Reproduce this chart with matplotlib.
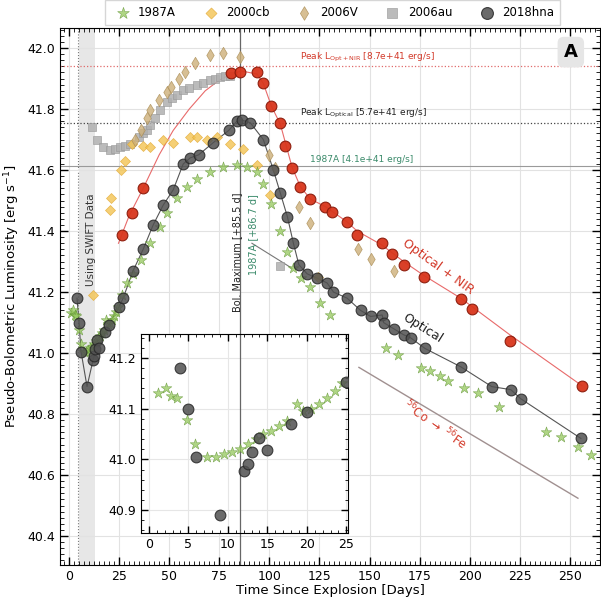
import matplotlib
matplotlib.use('Agg')
import matplotlib.pyplot as plt
from matplotlib.ticker import MultipleLocator
import matplotlib.transforms as mtransforms

# ---------------- data ----------------
# SN 2018hna optical pseudo-bolometric
hna_t = [4, 5, 6, 9, 12, 12.5, 13, 14, 15, 18, 20, 25, 27, 32, 37, 42, 47, 52, 57, 60.5, 64.7,
         72, 79.7, 83.8, 86.3, 90.5, 97, 102, 105.5, 109, 112, 114.7, 118.8, 124, 128.8, 132,
         138.8, 145.5, 150.5, 156.3, 157, 162, 167, 170.5, 177.7, 195.5, 211, 220.5, 225.5, 255.5]
hna_L = [41.18, 41.10, 41.005, 40.89, 40.977, 40.99, 41.014, 41.042, 41.018, 41.07, 41.093,
         41.152, 41.18, 41.27, 41.34, 41.42, 41.485, 41.535, 41.62, 41.64, 41.65, 41.69, 41.73,
         41.76, 41.764, 41.755, 41.70, 41.60, 41.524, 41.447, 41.36, 41.29, 41.26, 41.245,
         41.23, 41.20, 41.18, 41.14, 41.12, 41.125, 41.10, 41.08, 41.06, 41.05, 41.015, 40.955,
         40.89, 40.88, 40.85, 40.72]

# SN 2018hna optical + NIR
nir_t = [26.3, 31.3, 37, 81, 85.5, 93.8, 97, 101, 105.5, 108, 111.3, 115.5, 120.5, 128,
         131.3, 138.8, 143.8, 156, 161.3, 167, 177, 195.5, 201, 220, 256]
nir_L = [41.387, 41.46, 41.54, 41.917, 41.922, 41.92, 41.884, 41.81, 41.753, 41.68, 41.606,
         41.545, 41.505, 41.48, 41.463, 41.43, 41.387, 41.36, 41.325, 41.29, 41.25, 41.176,
         41.144, 41.04, 40.893]
# smooth curve through optical + NIR
nirfit_t = [24.7, 30, 37, 45, 52, 60, 68, 75, 81, 86, 93.8, 97, 101, 105.5, 111.3, 115.5,
            120.5, 128, 138.8, 143.8, 156, 167, 177, 195.5, 220, 256]
nirfit_L = [41.36, 41.45, 41.54, 41.65, 41.73, 41.80, 41.86, 41.895, 41.915, 41.925, 41.915,
            41.884, 41.81, 41.75, 41.61, 41.545, 41.505, 41.48, 41.43, 41.40, 41.355, 41.30,
            41.255, 41.18, 41.06, 40.893]

# SN 1987A
s87_t = [1.2, 2.2, 2.8, 3.5, 4.8, 5.8, 7.4, 8.5, 9.5, 10.5, 11.5, 12.5, 13.5, 14.5, 15.5, 16.5,
         17.5, 18.7, 19.5, 20.5, 21.5, 22.5, 23.5, 24.5, 26.5, 28.8, 32, 36, 40.5, 45.5, 49,
         54, 59, 64, 70.5, 77, 84, 89, 94, 97, 101, 105.5, 109, 112, 116, 120.5, 125.5, 130.5,
         158, 164, 175.5, 180, 185, 189, 197, 204, 214.7, 238, 245.5, 254, 260.5]
s87_L = [41.13, 41.14, 41.125, 41.12, 41.077, 41.03, 41.004, 41.005, 41.01, 41.015, 41.02,
         41.03, 41.04, 41.05, 41.055, 41.065, 41.075, 41.11, 41.095, 41.10, 41.11, 41.12,
         41.135, 41.15, 41.19, 41.23, 41.26, 41.305, 41.36, 41.414, 41.458, 41.51, 41.545,
         41.57, 41.595, 41.61, 41.616, 41.61, 41.594, 41.556, 41.49, 41.40, 41.33, 41.28,
         41.245, 41.217, 41.163, 41.125, 41.015, 40.993, 40.95, 40.94, 40.925, 40.91, 40.884,
         40.868, 40.824, 40.742, 40.726, 40.693, 40.666]

# SN 2000cb
s00_t = [12, 20.5, 21, 26, 28, 31.3, 37, 40.5, 47, 52, 60.5, 64, 69, 74, 80.5, 87, 94, 100.5, 124.5]
s00_L = [41.19, 41.47, 41.51, 41.60, 41.63, 41.687, 41.68, 41.676, 41.70, 41.69, 41.71,
         41.71, 41.70, 41.71, 41.687, 41.67, 41.616, 41.518, 41.25]

# SN 2006V
s06v_t = [33, 36, 39, 40.5, 45, 49, 51, 55, 58, 63, 70.5, 77, 85.5, 99.7, 103, 114.7, 120.5,
          144, 150.5, 162]
s06v_L = [41.70, 41.73, 41.77, 41.797, 41.83, 41.857, 41.873, 41.90, 41.922, 41.95, 41.977,
          41.983, 41.97, 41.65, 41.606, 41.48, 41.425, 41.34, 41.31, 41.27]

# SN 2006au
s06au_t = [11.3, 13.8, 17, 20.5, 23, 25.5, 28, 30.5, 34.7, 37, 39, 40.5, 43, 45.5, 49, 51.5,
           54, 57, 60, 64, 67, 70.5, 73, 75.5, 78, 80.5, 105.5]
s06au_L = [41.742, 41.70, 41.676, 41.666, 41.67, 41.676, 41.68, 41.687, 41.71, 41.72, 41.73,
           41.748, 41.77, 41.797, 41.824, 41.835, 41.846, 41.862, 41.87, 41.879, 41.887,
           41.895, 41.90, 41.906, 41.908, 41.91, 41.285]
au_tail_t = [91.3, 111.3]
au_tail_L = [41.36, 41.278]

# reference levels
peak_nir = 41.94
peak_opt = 41.756
peak_87 = 41.613
t_max = 85.5
swift_span = (5, 13)
co_t = [144.7, 254]
co_L = [40.953, 40.524]

# ---------------- styles ----------------
c87, e87 = '#94c85c', '#5b8f2c'
c00, e00 = '#f3c452', '#e2a935'
c06v, e06v = '#cdb07a', '#a88a52'
c06au, e06au = '#b0b0b0', '#999999'
chna, ehna = '#505050', '#262626'
cred, ered = '#d8361c', '#8a1a0a'
S_CIRC = 60
S_STAR = 65

fig = plt.figure(figsize=(6.01, 6.08), dpi=100)
ax = fig.add_axes([0.0998, 0.0707, 0.8985, 0.8833])

ax.set_xlim(-4.5, 265)
ax.set_ylim(40.305, 42.066)
ax.xaxis.set_major_locator(MultipleLocator(25))
ax.xaxis.set_minor_locator(MultipleLocator(2.5))
ax.yaxis.set_major_locator(MultipleLocator(0.2))
ax.yaxis.set_minor_locator(MultipleLocator(0.02))
ax.tick_params(which='both', direction='in', top=True, right=True, labelsize=9)
ax.tick_params(which='major', length=6, width=1.0)
ax.tick_params(which='minor', length=3, width=0.6)
ax.grid(True, which='major', color='#e2e2e2', lw=0.8, zorder=0)

ax.axvspan(*swift_span, color='#d8d8d8', alpha=0.6, lw=0, zorder=1)
ax.axvline(swift_span[0] - 0.5, color='#777777', lw=0.8, ls=':', zorder=1)
ax.text((swift_span[0] + swift_span[1]) / 2 + 2.0, 41.37, 'Using SWIFT Data', rotation=90,
        ha='center', va='center', fontsize=7.5, color='#333333', zorder=6)

ax.axhline(peak_nir, color='#e06a6a', lw=0.9, ls=':', zorder=2)
ax.axhline(peak_opt, color='#444444', lw=0.9, ls=':', zorder=2)
ax.axhline(peak_87, color='#9a9a9a', lw=0.8, ls='-', zorder=2)
ax.text(115.5, peak_nir + 0.008, r'Peak L$_{\mathrm{Opt+NIR}}$ [8.7e+41 erg/s]',
        fontsize=6.5, color='#d33a2a', va='bottom')
ax.text(115.5, peak_opt + 0.008, r'Peak L$_{\mathrm{Optical}}$ [5.7e+41 erg/s]',
        fontsize=6.5, color='#222222', va='bottom')
ax.text(120.5, peak_87 + 0.008, '1987A [4.1e+41 erg/s]',
        fontsize=6.5, color='#3a8a6a', va='bottom')

ax.axvline(t_max, color='#666666', lw=0.9, zorder=2)
ax.text(t_max - 1.5, 41.33, 'Bol. Maximum [+85.5 d]', rotation=90, ha='center', va='center',
        fontsize=7, color='#222222', zorder=6)
ax.text(t_max + 6.3, 41.39, '1987A [+86.7 d]', rotation=90, ha='center', va='center',
        fontsize=7, color='#3a8a6a', zorder=6)

# data
ax.plot(nirfit_t, nirfit_L, color='#e86a6a', lw=0.8, zorder=3)
ax.plot(hna_t, hna_L, color='#555555', lw=0.8, zorder=3)
ax.plot(co_t, co_L, color='#a09090', lw=1.0, zorder=3)
ax.plot(au_tail_t, au_tail_L, color='#777777', lw=0.8, zorder=3)

ax.scatter(s06au_t, s06au_L, marker='s', s=40, c=c06au, edgecolors=e06au, lw=0.5,
           alpha=0.85, zorder=4, label='2006au')
ax.scatter(s00_t, s00_L, marker='D', s=26, c=c00, edgecolors=e00, lw=0.5, alpha=0.8,
           zorder=4, label='2000cb')
ax.scatter(s06v_t, s06v_L, marker='d', s=40, c=c06v, edgecolors=e06v, lw=0.5, alpha=0.8,
           zorder=4, label='2006V')
ax.scatter(s87_t, s87_L, marker='*', s=S_STAR, c=c87, edgecolors=e87, lw=0.4, alpha=0.75,
           zorder=4, label='1987A')
ax.scatter(hna_t, hna_L, marker='o', s=S_CIRC, c=chna, edgecolors=ehna, lw=0.8, alpha=0.85,
           zorder=5, label='2018hna')
ax.scatter(nir_t, nir_L, marker='o', s=S_CIRC, c=cred, edgecolors=ered, lw=0.8, alpha=0.95,
           zorder=5)

ax.text(184, 41.283, 'Optical + NIR', rotation=-36, ha='center', va='center',
        fontsize=9, color='#d33a2a', rotation_mode='anchor')
ax.text(176.3, 41.08, 'Optical', rotation=-32, ha='center', va='center',
        fontsize=9, color='#222222', rotation_mode='anchor')
ax.text(182.5, 40.764, r'$^{56}$Co $\rightarrow$ $^{56}$Fe', rotation=-35, ha='center',
        va='center', fontsize=8.5, color='#d33a2a', rotation_mode='anchor')

ax.text(0.946, 0.955, 'A', transform=ax.transAxes, fontsize=13, fontweight='bold',
        ha='center', va='center',
        bbox=dict(boxstyle='round,pad=0.35', fc='#e6e6e6', ec='none'))

ax.set_xlabel('Time Since Explosion [Days]', fontsize=9.5, labelpad=1)
ax.set_ylabel(r'Pseudo-Bolometric Luminosity [erg s$^{-1}$]', fontsize=9.5, labelpad=4)

handles, labels = ax.get_legend_handles_labels()
order = ['1987A', '2000cb', '2006V', '2006au', '2018hna']
hmap = dict(zip(labels, handles))
ax.legend([hmap[k] for k in order], order, loc='lower center', bbox_to_anchor=(0.505, 0.995),
          ncol=5, fontsize=8.5, frameon=True, fancybox=False, edgecolor='#cccccc',
          handletextpad=0.3, columnspacing=1.95, borderpad=0.5, markerscale=1.1)

# ---------------- inset ----------------
axi = fig.add_axes([0.2346, 0.1234, 0.3444, 0.3273])
axi.set_xlim(-1, 25.2)
axi.set_ylim(40.855, 41.247)
axi.xaxis.set_major_locator(MultipleLocator(5))
axi.xaxis.set_minor_locator(MultipleLocator(1))
axi.yaxis.set_major_locator(MultipleLocator(0.1))
axi.yaxis.set_minor_locator(MultipleLocator(0.02))
axi.tick_params(which='both', direction='in', top=True, right=True, labelsize=9)
axi.tick_params(which='major', length=5, width=1.0)
axi.tick_params(which='minor', length=2.5, width=0.6)
axi.grid(True, which='major', color='#e6e6e6', lw=0.8, zorder=0)
axi.scatter(s87_t, s87_L, marker='*', s=S_STAR, c=c87, edgecolors=e87, lw=0.4, alpha=0.75, zorder=4)
axi.scatter(hna_t, hna_L, marker='o', s=S_CIRC, c=chna, edgecolors=ehna, lw=0.8, alpha=0.85, zorder=5)
trans = mtransforms.blended_transform_factory(ax.transData, axi.transAxes)
axi.plot([t_max, t_max], [0, 1], transform=trans, color='#666666', lw=0.9, zorder=2,
         clip_on=False)

fig.savefig('out.png', dpi=100)
